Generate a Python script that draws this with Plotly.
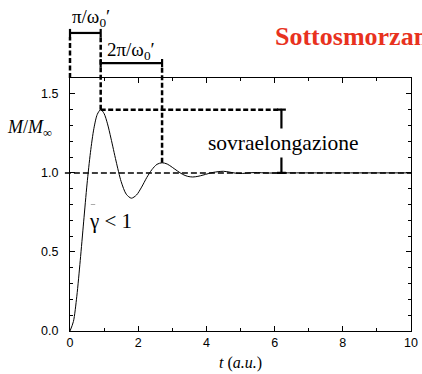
import plotly.graph_objects as go

# ---- data ----
t_vals = [0, 0.1, 0.2, 0.3, 0.4, 0.5, 0.6, 0.7, 0.8, 0.9, 1.0, 1.1, 1.2, 1.35, 1.5,
          1.65, 1.8, 1.95, 2.1, 2.25, 2.4, 2.55, 2.7, 2.85, 3.0, 3.15, 3.3, 3.45,
          3.6, 3.75, 3.9, 4.05, 4.2, 4.5, 4.95, 5.4, 5.85, 6.3, 7, 8, 9, 10]
m_vals = [0, 0.06, 0.22, 0.445, 0.69, 0.93, 1.13, 1.28, 1.37, 1.40, 1.375, 1.31,
          1.22, 1.075, 0.945, 0.865, 0.84, 0.86, 0.91, 0.97, 1.02, 1.054, 1.064,
          1.056, 1.035, 1.012, 0.991, 0.978, 0.974, 0.978, 0.986, 0.995, 1.003,
          1.01, 0.996, 1.002, 0.999, 1.0, 1.0, 1.0, 1.0, 1.0]
x_ticks = [0, 2, 4, 6, 8, 10]
y_ticks = [0.0, 0.5, 1.0, 1.5]
y_tick_labels = ["0.0", "0.5", "1.0", "1.5"]

peak_t, peak_m = 0.9, 1.40
peak2_t, peak2_m = 2.7, 1.064
final_m = 1.0
overshoot_t = 6.2

XR = (0, 10)
YR = (0, 1.6)

def px(t):
    return (t - XR[0]) / (XR[1] - XR[0])

def py(m):
    return (m - YR[0]) / (YR[1] - YR[0])

SERIF = "Liberation Serif, Times New Roman, serif"
SANS = "Liberation Sans, Arial, sans-serif"

fig = go.Figure()
fig.add_trace(go.Scatter(x=t_vals, y=m_vals, mode="lines",
                         line=dict(color="black", width=1, shape="spline", smoothing=0.8),
                         hoverinfo="skip", showlegend=False))

shapes = []
thick = dict(color="black", width=2.5, dash="5px,2.5px")
solid = dict(color="black", width=2.2)

# horizontal dashed line at final value
shapes.append(dict(type="line", xref="paper", yref="paper", x0=-0.015, x1=1,
                   y0=py(final_m), y1=py(final_m),
                   line=dict(color="black", width=1.5, dash="6px,3px")))
# horizontal dashed at peak
shapes.append(dict(type="line", xref="paper", yref="paper", x0=px(peak_t), x1=px(overshoot_t),
                   y0=py(peak_m), y1=py(peak_m), line=thick))
# verticals
top_v = 1.162
shapes.append(dict(type="line", xref="paper", yref="paper", x0=px(0), x1=px(0),
                   y0=1.0, y1=top_v, line=thick))
shapes.append(dict(type="line", xref="paper", yref="paper", x0=px(peak_t), x1=px(peak_t),
                   y0=py(peak_m), y1=top_v, line=thick))
shapes.append(dict(type="line", xref="paper", yref="paper", x0=px(peak2_t), x1=px(peak2_t),
                   y0=py(peak2_m), y1=1.05, line=thick))

# brackets
def hbracket(x0, x1, y, cap=0.016):
    return [dict(type="line", xref="paper", yref="paper", x0=x0, x1=x1, y0=y, y1=y, line=solid),
            dict(type="line", xref="paper", yref="paper", x0=x0, x1=x0, y0=y - cap, y1=y + cap, line=solid),
            dict(type="line", xref="paper", yref="paper", x0=x1, x1=x1, y0=y - cap, y1=y + cap, line=solid)]

shapes += hbracket(px(0), px(peak_t), 1.178)
shapes += hbracket(px(peak_t), px(peak2_t), 1.059)

# vertical overshoot bracket
capw = 0.013
shapes.append(dict(type="line", xref="paper", yref="paper", x0=px(overshoot_t), x1=px(overshoot_t),
                   y0=py(final_m), y1=py(peak_m), line=solid))
shapes.append(dict(type="line", xref="paper", yref="paper", x0=px(overshoot_t) - capw,
                   x1=px(overshoot_t) + capw, y0=py(peak_m), y1=py(peak_m), line=solid))
shapes.append(dict(type="line", xref="paper", yref="paper", x0=px(overshoot_t) - capw,
                   x1=px(overshoot_t) + capw, y0=py(final_m), y1=py(final_m), line=solid))

# tiny grey mark above gamma (as in reference)
shapes.append(dict(type="line", xref="paper", yref="paper", x0=0.061, x1=0.074,
                   y0=0.5, y1=0.5, line=dict(color="#aaaaaa", width=1)))

def ann(text, x, y, size, family=SERIF, color="black", xanchor="center", yanchor="middle", **kw):
    return dict(text=text, x=x, y=y, xref="paper", yref="paper", showarrow=False,
                xanchor=xanchor, yanchor=yanchor,
                font=dict(family=family, size=size, color=color), **kw)

annotations = [
    ann("π/ω<sub>0</sub>′", 0.062, 1.238, 19),
    ann("2π/ω<sub>0</sub>′", 0.179, 1.108, 19),
    ann("sovraelongazione", 0.626, py(1.189), 21.5, bgcolor="white", borderpad=2),
    ann("γ < 1", 0.118, 0.435, 21),
    ann("<b>Sottosmorzamento</b>", 0.596, 1.165, 26, color="#e8321e", xanchor="left"),
    ann("<i>M</i>/<i>M</i><sub>∞</sub>", -0.19, 0.802, 18, xanchor="left"),
    ann("<i>t</i> (<i>a.u.</i>)", 0.5, -0.128, 16),
]

axis_common = dict(showgrid=False, zeroline=False, showline=True, linecolor="black",
                   linewidth=1, mirror="ticks", ticks="inside", ticklen=5,
                   tickcolor="black", tickwidth=1, automargin=False,
                   tickfont=dict(family=SANS, size=12.5, color="black"))

fig.update_layout(
    width=422, height=374,
    margin=dict(l=70, r=11, t=78, b=43),
    paper_bgcolor="white", plot_bgcolor="white",
    xaxis=dict(range=list(XR), tickvals=x_ticks, ticktext=[str(v) for v in x_ticks],
               minor=dict(dtick=1, ticks="inside", ticklen=3, tickcolor="black"),
               **axis_common),
    yaxis=dict(range=list(YR), tickvals=y_ticks, ticktext=y_tick_labels,
               minor=dict(dtick=0.1, ticks="inside", ticklen=3, tickcolor="black"),
               ticklabelstandoff=8,
               **axis_common),
    shapes=shapes,
    annotations=annotations,
    showlegend=False,
)

fig.write_html("out.html", config={"displayModeBar": False},
               post_script="document.body.style.margin='0';document.body.style.overflow='hidden';")
